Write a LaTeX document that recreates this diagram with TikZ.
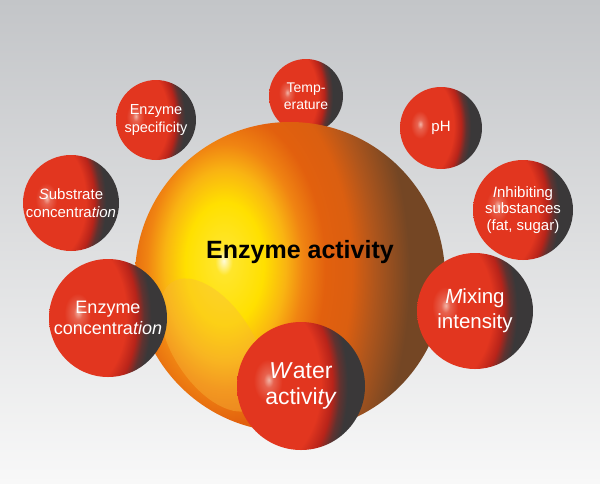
\documentclass[tikz,border=0pt]{standalone}
\usepackage{fontspec}
\setmainfont{Liberation Sans}
\usetikzlibrary{positioning, calc}

\definecolor{bgtop}{HTML}{C3C5C8}
\definecolor{bgmid}{HTML}{DCDDDF}
\definecolor{bgbot}{HTML}{F8F8F8}
\definecolor{redhi}{HTML}{F2B4A6}
\definecolor{redmain}{HTML}{E2361F}
\definecolor{reddeep}{HTML}{B8241A}
\definecolor{redrim}{HTML}{3A3839}
\definecolor{yelhi}{HTML}{FFFBD8}
\definecolor{yelmain}{HTML}{FFE000}
\definecolor{orgyel}{HTML}{F9B412}
\definecolor{orgmid}{HTML}{F08412}
\definecolor{orgedge}{HTML}{E2600E}
\definecolor{brnmid}{HTML}{B0561C}
\definecolor{brnrim}{HTML}{744624}
\definecolor{glossc}{HTML}{F8B838}

\pgfdeclareradialshading{redball}{\pgfpoint{1.5bp}{1bp}}{%
  color(0bp)=(redhi); color(1.2bp)=(redhi!35!redmain); color(3.5bp)=(redmain);
  color(13.5bp)=(redmain); color(16.5bp)=(reddeep); color(18.5bp)=(redrim!70!reddeep);
  color(20.5bp)=(redrim); color(25bp)=(redrim)}
\pgfdeclareradialshading{orangeball}{\pgfpoint{-0.5bp}{1.2bp}}{%
  color(0bp)=(yelhi); color(1bp)=(yelmain!80!yelhi); color(4.5bp)=(yelmain);
  color(7bp)=(orgyel); color(9bp)=(orgmid); color(11.5bp)=(orgedge);
  color(14.5bp)=(orgedge!85!brnmid); color(17bp)=(brnmid); color(21bp)=(brnrim); color(25bp)=(brnrim)}

\begin{document}
\begin{tikzpicture}[
    x=1pt, y=1pt,
    ball/.style={circle, inner sep=0pt, minimum size=2*#1*1pt, text=white, align=center,
      path picture={\shade[shading=redball] ([xshift=-0.6*#1*1pt]path picture bounding box.center)
        ellipse ({1.6*#1*1pt} and {2.4*#1*1pt});}},
    bigball/.style={circle, inner sep=0pt, minimum size=2*#1*1pt,
      path picture={\shade[shading=orangeball] ([xshift=-0.4*#1*1pt]path picture bounding box.center)
        ellipse ({1.4*#1*1pt} and {2.2*#1*1pt});}},
    title/.style={font=\bfseries\fontsize{25}{30}\selectfont, text=black},
    gloss/.style={fill=glossc, fill opacity=0.4},
  ]

  % Draw the background
  \shade[top color=bgtop, middle color=bgmid, bottom color=bgbot] (0,0) rectangle (600,-483);
  \useasboundingbox (0,0) rectangle (600,-483);

  % Draw the factors behind the main sphere
  \foreach \name/\x/\y/\rad/\fs/\ls/\txt in {
      temp/306/96/37/14/17/{Temp-\\erature},
      spec/156/120/40/14.5/18/{Enzyme\\specificity},
      ph/441/128/41/15/18/{pH},
      subst/71/203/48/15/17.5/{\textit{S}ubstrate\\concentra\textit{tion}},
      inhib/523/210/50/15/16.5/{\textit{I}nhibiting\\substances\\(fat, sugar)}}
    \node[ball=\rad, font=\fontsize{\fs}{\ls}\selectfont] (\name) at (\x,-\y) {\txt};

  % Draw the main sphere
  \node[bigball=155] (act) at (290,-277) {};
  \begin{scope}
    \clip (act) circle (155);
    \fill[gloss, rotate around={-57:(213,-345)}] (213,-345) ellipse (75 and 40);
  \end{scope}
  \node[title] (actlbl) at (300,-252) {Enzyme activity};

  % Draw the factors in front of the main sphere
  \foreach \name/\x/\y/\rad/\fs/\ls/\txt in {
      econc/108/318/59/18/21/{Enzyme\\concentra\textit{tion}},
      mix/475/311/58/20.5/25/{\textit{M}ixing\\intensity},
      water/301/386/64/23/26/{\textit{W}ater\\activi\textit{ty}}}
    \node[ball=\rad, font=\fontsize{\fs}{\ls}\selectfont] (\name) at (\x,-\y) {\txt};
\end{tikzpicture}
\end{document}
